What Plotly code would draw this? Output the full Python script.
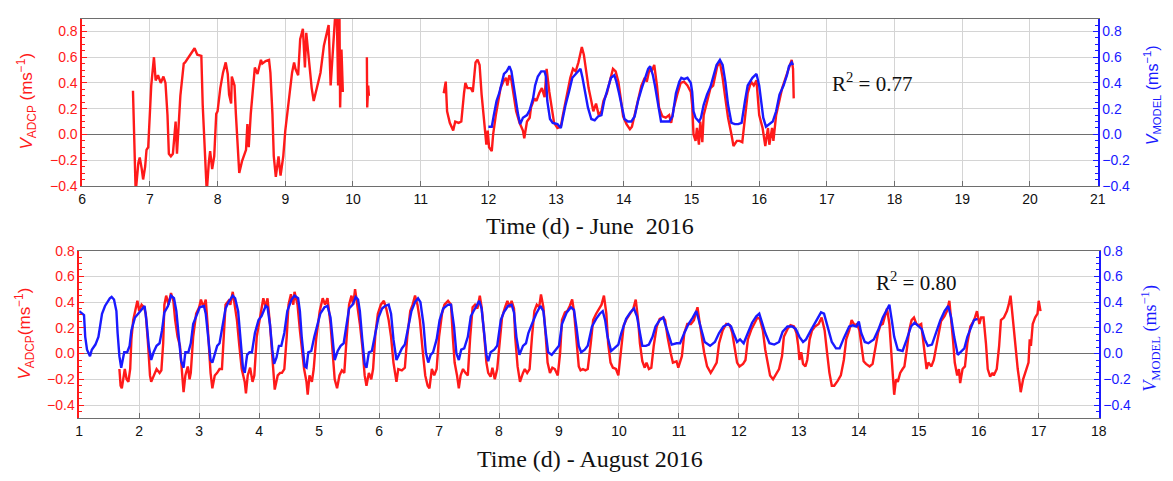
import plotly.graph_objects as go

# ---------------- June 2016 ----------------
june_adcp_t = [
    6.75, 6.79, 6.83, 6.85, 6.88, 6.90, 6.93, 6.95, 6.975, 7.00, 7.02, 7.06, 7.085, 7.12, 7.16, 7.20,
    7.23, 7.26, 7.28, 7.31, 7.34, 7.38, 7.40, 7.45, 7.50, 7.52, 7.57, 7.62, 7.66, 7.70, 7.76, 7.78,
    7.81, 7.84, 7.87, 7.89, 7.92, 7.95, 7.98, 8.00, 8.04, 8.08, 8.12, 8.15, 8.17, 8.20, 8.21, 8.25,
    8.27, 8.30, 8.32, 8.36, 8.39, 8.42, 8.44, 8.46, 8.49, 8.52, 8.55, 8.59, 8.64, 8.66, 8.71, 8.76,
    8.78, 8.81, 8.83, 8.86, 8.90, 8.93, 8.97, 9.00, 9.03, 9.08, 9.10, 9.13, 9.15, 9.19, 9.22, 9.26,
    9.29, 9.31, 9.35, 9.39, 9.42, 9.47, 9.52, 9.57, 9.62, 9.64, 9.67, 9.69, 9.71, 9.74, 9.76, 9.78,
    9.80, 9.81, 9.83, 9.85,
    None,
    10.205, 10.21, 10.225, 10.235,
    None,
    11.34, 11.37, 11.39, 11.43, 11.48, 11.51, 11.56, 11.60, 11.64, 11.66, 11.69, 11.74, 11.77, 11.81,
    11.84, 11.87, 11.90, 11.94, 11.97, 11.99, 12.01, 12.05, 12.07, 12.11, 12.15, 12.18, 12.22, 12.26,
    12.28, 12.31, 12.34, 12.37, 12.41, 12.46, 12.51, 12.53, 12.57, 12.61, 12.63, 12.68, 12.71, 12.75,
    12.79, 12.83, 12.86, 12.90, 12.94, 12.97, 13.02, 13.07, 13.10, 13.14, 13.18, 13.21, 13.25, 13.29,
    13.33, 13.36, 13.38, 13.41, 13.44, 13.48, 13.52, 13.55, 13.59, 13.63, 13.67, 13.70, 13.75, 13.80,
    13.84, 13.88, 13.92, 13.96, 13.99, 14.04, 14.09, 14.12, 14.16, 14.21, 14.26, 14.31, 14.34, 14.38,
    14.41, 14.45, 14.49, 14.52, 14.57, 14.62, 14.67, 14.70, 14.74, 14.79, 14.84, 14.89, 14.94, 14.99,
    15.01, 15.03, 15.06, 15.08, 15.11, 15.13, 15.16, 15.18, 15.23, 15.28, 15.32, 15.35, 15.38, 15.42,
    15.46, 15.50, 15.54, 15.59, 15.62, 15.67, 15.71, 15.75, 15.79, 15.83, 15.88, 15.92, 15.96, 15.98,
    16.00, 16.05, 16.09, 16.13, 16.15, 16.19, 16.21, 16.25, 16.30, 16.34, 16.39, 16.44, 16.48, 16.50,
    16.51,
]
june_adcp_v = [
    0.34, -0.45, -0.22, -0.18, -0.27, -0.35, -0.25, -0.12, -0.10, 0.23, 0.38, 0.60, 0.42, 0.46, 0.40, 0.45,
    0.40, 0.15, -0.15, -0.17, -0.15, 0.10, -0.15, 0.30, 0.55, 0.56, 0.60, 0.64, 0.67, 0.62, 0.61, 0.23,
    -0.22, -0.45, -0.22, -0.13, -0.27, -0.17, 0.16, 0.18, 0.36, 0.48, 0.56, 0.47, 0.31, 0.24, 0.45, 0.38,
    0.16, -0.10, -0.30, -0.21, -0.17, -0.12, 0.08, -0.10, 0.16, 0.38, 0.52, 0.47, 0.58, 0.55, 0.57, 0.58,
    0.48, 0.16, -0.17, -0.33, -0.17, -0.32, -0.17, 0.03, 0.18, 0.43, 0.48, 0.56, 0.51, 0.46, 0.74, 0.82,
    0.52, 0.79, 0.56, 0.36, 0.26, 0.36, 0.48, 0.69, 0.79, 0.85, 0.38, 0.53, 0.74, 0.95, 0.95, 0.38,
    0.95, 0.21, 0.66, 0.33,
    None,
    0.60, 0.21, 0.38, 0.30,
    None,
    0.32, 0.41, 0.18, 0.09, 0.03, 0.10, 0.09, 0.10, 0.32, 0.40, 0.36, 0.36, 0.33, 0.56,
    0.58, 0.54, 0.31, 0.10, -0.08, 0.03, -0.10, -0.13, 0.00, 0.15, 0.28, 0.36, 0.41, 0.44,
    0.38, 0.46, 0.42, 0.31, 0.18, 0.09, 0.03, -0.03, 0.10, 0.13, 0.21, 0.28, 0.26, 0.32,
    0.36, 0.29, 0.51, 0.33, 0.17, 0.09, 0.05, 0.06, 0.15, 0.26, 0.36, 0.44, 0.51, 0.49,
    0.56, 0.64, 0.68, 0.62, 0.49, 0.36, 0.26, 0.18, 0.24, 0.15, 0.18, 0.26, 0.32, 0.44,
    0.51, 0.49, 0.41, 0.26, 0.14, 0.08, 0.04, 0.06, 0.15, 0.26, 0.38, 0.44, 0.41, 0.51,
    0.49, 0.54, 0.38, 0.21, 0.14, 0.13, 0.15, 0.09, 0.21, 0.31, 0.40, 0.41, 0.38, 0.33,
    0.23, 0.00, -0.05, 0.05, -0.08, 0.10, -0.06, 0.15, 0.26, 0.36, 0.38, 0.46, 0.53, 0.56,
    0.44, 0.28, 0.13, 0.00, -0.09, -0.05, -0.05, -0.06, 0.15, 0.32, 0.41, 0.38, 0.42, 0.26,
    0.15, 0.05, -0.09, 0.05, -0.08, 0.05, -0.05, 0.15, 0.28, 0.36, 0.44, 0.51, 0.58, 0.51,
    0.28,
]

june_model_t = [
    12.00, 12.05, 12.08, 12.12, 12.16, 12.19, 12.23, 12.27, 12.31, 12.34, 12.37, 12.41, 12.44, 12.47,
    12.51, 12.57, 12.61, 12.66, 12.69, 12.73, 12.78, 12.83, 12.85, 12.87, 12.91, 12.95, 13.02, 13.07,
    13.10, 13.14, 13.19, 13.24, 13.29, 13.33, 13.36, 13.39, 13.43, 13.47, 13.52, 13.57, 13.62, 13.67,
    13.71, 13.76, 13.81, 13.86, 13.89, 13.93, 13.97, 14.01, 14.06, 14.11, 14.16, 14.21, 14.26, 14.32,
    14.36, 14.39, 14.43, 14.46, 14.50, 14.55, 14.61, 14.67, 14.72, 14.77, 14.82, 14.85, 14.89, 14.94,
    14.99, 15.01, 15.03, 15.06, 15.11, 15.14, 15.18, 15.23, 15.28, 15.33, 15.37, 15.42, 15.46, 15.50,
    15.54, 15.59, 15.64, 15.69, 15.74, 15.79, 15.83, 15.90, 15.96, 16.00, 16.03, 16.06, 16.10, 16.15,
    16.20, 16.25, 16.30, 16.36, 16.41, 16.44, 16.48, 16.50,
]
june_model_v = [
    0.06, 0.06, 0.15, 0.26, 0.32, 0.38, 0.47, 0.49, 0.53, 0.49, 0.38, 0.26, 0.15, 0.08,
    0.13, 0.15, 0.19, 0.28, 0.38, 0.45, 0.49, 0.49, 0.45, 0.26, 0.12, 0.09, 0.08, 0.05,
    0.13, 0.23, 0.33, 0.44, 0.47, 0.49, 0.51, 0.44, 0.31, 0.21, 0.12, 0.11, 0.14, 0.15,
    0.26, 0.36, 0.44, 0.46, 0.41, 0.32, 0.21, 0.12, 0.10, 0.10, 0.14, 0.26, 0.35, 0.44,
    0.51, 0.53, 0.46, 0.38, 0.26, 0.10, 0.10, 0.10, 0.14, 0.32, 0.41, 0.44, 0.43, 0.44,
    0.40, 0.33, 0.18, 0.13, 0.10, 0.13, 0.23, 0.31, 0.37, 0.46, 0.54, 0.58, 0.54, 0.41,
    0.23, 0.09, 0.08, 0.08, 0.09, 0.26, 0.38, 0.44, 0.47, 0.38, 0.26, 0.13, 0.06, 0.08,
    0.10, 0.18, 0.31, 0.38, 0.46, 0.53, 0.56, 0.54,
]

# ---------------- August 2016 ----------------
aug_adcp_t = [
    1.67, 1.69, 1.71, 1.74, 1.76, 1.79, 1.82, 1.85, 1.87, 1.90, 1.93, 1.97, 2.00, 2.04, 2.08, 2.11,
    2.15, 2.18, 2.20, 2.24, 2.29, 2.34, 2.37, 2.40, 2.42, 2.45, 2.49, 2.53, 2.57, 2.60, 2.64, 2.68,
    2.71, 2.74, 2.77, 2.81, 2.84, 2.86, 2.90, 2.95, 3.00, 3.03, 3.07, 3.11, 3.14, 3.16, 3.19, 3.22,
    3.26, 3.30, 3.34, 3.38, 3.41, 3.44, 3.49, 3.52, 3.56, 3.59, 3.63, 3.67, 3.71, 3.76, 3.78, 3.81,
    3.85, 3.89, 3.92, 3.96, 4.02, 4.07, 4.11, 4.14, 4.18, 4.21, 4.24, 4.26, 4.31, 4.35, 4.38, 4.42,
    4.46, 4.49, 4.53, 4.57, 4.59, 4.64, 4.68, 4.71, 4.75, 4.79, 4.81, 4.84, 4.88, 4.91, 4.95, 5.01,
    5.06, 5.10, 5.14, 5.19, 5.23, 5.26, 5.30, 5.34, 5.38, 5.42, 5.46, 5.50, 5.54, 5.57, 5.60, 5.64,
    5.68, 5.72, 5.76, 5.79, 5.83, 5.87, 5.90, 5.94, 5.98, 6.03, 6.08, 6.12, 6.16, 6.20, 6.24, 6.29,
    6.32, 6.38, 6.43, 6.47, 6.52, 6.56, 6.60, 6.64, 6.68, 6.73, 6.77, 6.81, 6.84, 6.88, 6.92, 6.96,
    7.00, 7.05, 7.09, 7.15, 7.20, 7.23, 7.26, 7.30, 7.33, 7.36, 7.40, 7.44, 7.48, 7.52, 7.56, 7.60,
    7.64, 7.68, 7.71, 7.75, 7.79, 7.82, 7.86, 7.89, 7.93, 7.97, 8.01, 8.05, 8.10, 8.14, 8.18, 8.21,
    8.25, 8.27, 8.31, 8.35, 8.40, 8.43, 8.47, 8.51, 8.55, 8.59, 8.63, 8.67, 8.70, 8.74, 8.78, 8.81,
    8.85, 8.89, 8.93, 8.98, 9.02, 9.05, 9.10, 9.14, 9.18, 9.22, 9.25, 9.29, 9.33, 9.36, 9.40, 9.44,
    9.48, 9.53, 9.57, 9.62, 9.68, 9.71, 9.75, 9.79, 9.82, 9.86, 9.90, 9.95, 9.99, 10.03, 10.08, 10.13,
    10.19, 10.24, 10.28, 10.32, 10.35, 10.39, 10.43, 10.46, 10.50, 10.54, 10.58, 10.63, 10.68, 10.74,
    10.77, 10.81, 10.86, 10.90, 10.96, 10.99, 11.05, 11.09, 11.14, 11.20, 11.25, 11.31, 11.34, 11.38,
    11.42, 11.47, 11.53, 11.57, 11.63, 11.67, 11.73, 11.79, 11.85, 11.89, 11.93, 11.97, 12.01, 12.07,
    12.11, 12.15, 12.21, 12.26, 12.31, 12.35, 12.40, 12.44, 12.48, 12.52, 12.57, 12.62, 12.67, 12.72,
    12.75, 12.81, 12.86, 12.92, 12.96, 12.99, 13.01, 13.04, 13.07, 13.11, 13.14, 13.18, 13.22, 13.27,
    13.33, 13.38, 13.43, 13.47, 13.51, 13.55, 13.59, 13.65, 13.70, 13.75, 13.79, 13.84, 13.88, 13.93,
    13.97, 14.01, 14.05, 14.08, 14.12, 14.18, 14.23, 14.27, 14.32, 14.36, 14.40, 14.43, 14.47, 14.51,
    14.54, 14.56, 14.59, 14.62, 14.65, 14.69, 14.73, 14.76, 14.80, 14.84, 14.88, 14.92, 14.96, 15.00,
    15.04, 15.09, 15.13, 15.16, 15.21, 15.25, 15.29, 15.33, 15.37, 15.43, 15.47, 15.51, 15.54, 15.57,
    15.60, 15.64, 15.67, 15.69, 15.73, 15.77, 15.81, 15.86, 15.90, 15.93, 15.97, 16.01, 16.04, 16.08,
    16.12, 16.15, 16.19, 16.23, 16.25, 16.30, 16.34, 16.37, 16.42, 16.47, 16.50, 16.53, 16.55, 16.58,
    16.61, 16.65, 16.68, 16.70, 16.74, 16.77, 16.80, 16.83, 16.85, 16.87, 16.90, 16.94, 16.98, 17.00,
    17.03,
]
aug_adcp_v = [
    -0.12, -0.25, -0.27, -0.17, -0.12, -0.20, -0.22, -0.12, 0.11, 0.26, 0.32, 0.41, 0.33, 0.38, 0.36, 0.31,
    0.06, -0.17, -0.22, -0.17, -0.12, -0.15, -0.13, 0.08, 0.38, 0.45, 0.38, 0.47, 0.41, 0.26, 0.13, 0.06,
    -0.12, -0.30, -0.17, -0.10, -0.20, -0.15, 0.13, 0.31, 0.36, 0.42, 0.36, 0.42, 0.23, 0.06, -0.15, -0.27,
    -0.17, -0.15, -0.12, -0.12, 0.13, 0.38, 0.41, 0.38, 0.48, 0.38, 0.26, 0.06, -0.12, -0.22, -0.31, -0.17,
    -0.11, -0.22, -0.17, 0.13, 0.31, 0.43, 0.36, 0.43, 0.23, 0.01, -0.17, -0.28, -0.17, -0.15, -0.15, -0.12,
    0.13, 0.38, 0.46, 0.38, 0.48, 0.38, 0.18, 0.03, -0.12, -0.22, -0.32, -0.17, -0.22, -0.12, 0.11, 0.33,
    0.43, 0.38, 0.43, 0.23, 0.01, -0.20, -0.27, -0.17, -0.13, -0.15, 0.13, 0.38, 0.45, 0.38, 0.50, 0.38,
    0.23, 0.06, -0.17, -0.25, -0.15, -0.20, -0.12, 0.16, 0.31, 0.38, 0.41, 0.35, 0.26, 0.13, -0.07, -0.22,
    -0.12, -0.13, -0.11, 0.13, 0.33, 0.38, 0.45, 0.38, 0.26, 0.01, -0.17, -0.25, -0.27, -0.12, -0.17, -0.12,
    0.13, 0.31, 0.38, 0.41, 0.38, 0.13, -0.07, -0.17, -0.27, -0.17, -0.12, -0.15, -0.17, 0.13, 0.36, 0.38,
    0.35, 0.45, 0.36, 0.16, -0.07, -0.15, -0.18, -0.11, -0.20, -0.12, 0.06, 0.28, 0.36, 0.41, 0.36, 0.41,
    0.35, 0.13, -0.10, -0.22, -0.15, -0.12, -0.15, -0.12, 0.13, 0.33, 0.38, 0.36, 0.46, 0.36, 0.13, -0.07,
    -0.15, -0.11, -0.12, -0.17, 0.01, 0.26, 0.32, 0.33, 0.37, 0.42, 0.33, 0.11, -0.10, -0.13, -0.12, -0.13,
    -0.12, 0.08, 0.26, 0.31, 0.36, 0.38, 0.45, 0.31, 0.08, -0.07, -0.11, -0.12, -0.17, 0.03, 0.22, 0.27,
    0.32, 0.35, 0.42, 0.26, 0.08, -0.06, -0.11, -0.07, -0.12, -0.11, 0.06, 0.21, 0.27, 0.28,
    0.26, 0.13, 0.01, -0.07, -0.06, -0.11, -0.02, 0.16, 0.23, 0.23, 0.26, 0.36, 0.26, 0.13,
    0.01, -0.10, -0.15, -0.12, -0.07, 0.08, 0.18, 0.23, 0.22, 0.16, 0.03, -0.07, -0.10, -0.08,
    -0.05, 0.11, 0.19, 0.23, 0.28, 0.27, 0.18, 0.03, -0.07, -0.17, -0.20, -0.16, -0.12, -0.02,
    0.13, 0.19, 0.22, 0.21, 0.16, 0.06, -0.05, 0.01, -0.08, -0.10, -0.05, 0.11, 0.18, 0.21,
    0.23, 0.28, 0.18, 0.01, -0.15, -0.25, -0.25, -0.21, -0.17, -0.05, 0.11, 0.18, 0.26, 0.22,
    0.23, 0.18, 0.03, -0.06, -0.08, -0.10, -0.08, 0.03, 0.16, 0.22, 0.23, 0.28, 0.35, 0.23,
    0.06, -0.12, -0.32, -0.20, -0.22, -0.15, -0.12, -0.10, 0.03, 0.18, 0.26, 0.28, 0.23, 0.22,
    0.23, 0.03, -0.12, -0.07, -0.10, -0.05, 0.06, 0.16, 0.25, 0.29, 0.33, 0.41, 0.28, 0.11,
    -0.07, -0.17, -0.12, -0.23, -0.12, -0.10, 0.08, 0.21, 0.24, 0.27, 0.33, 0.23, 0.28, 0.28,
    0.08, -0.12, -0.18, -0.15, -0.17, -0.12, 0.06, 0.26, 0.28, 0.33, 0.38, 0.45, 0.36, 0.21,
    0.03, -0.12, -0.22, -0.30, -0.20, -0.15, -0.12, -0.07, 0.11, 0.06, 0.23, 0.28, 0.31, 0.41,
    0.33,
]

aug_model_t = [
    1.00, 1.08, 1.10, 1.13, 1.18, 1.21, 1.27, 1.32, 1.38, 1.43, 1.51, 1.54, 1.58, 1.62, 1.64, 1.67,
    1.70, 1.73, 1.75, 1.80, 1.84, 1.87, 1.93, 2.00, 2.07, 2.09, 2.12, 2.16, 2.20, 2.24, 2.29, 2.34,
    2.38, 2.42, 2.48, 2.53, 2.58, 2.62, 2.66, 2.70, 2.74, 2.77, 2.82, 2.86, 2.90, 2.96, 3.01, 3.08,
    3.11, 3.15, 3.19, 3.22, 3.26, 3.30, 3.34, 3.38, 3.44, 3.49, 3.56, 3.60, 3.65, 3.69, 3.73, 3.76,
    3.80, 3.84, 3.88, 3.93, 3.99, 4.04, 4.11, 4.14, 4.18, 4.22, 4.25, 4.29, 4.33, 4.37, 4.42, 4.47,
    4.54, 4.59, 4.65, 4.68, 4.71, 4.76, 4.79, 4.82, 4.87, 4.92, 4.97, 5.02, 5.09, 5.14, 5.19, 5.23,
    5.26, 5.31, 5.36, 5.41, 5.45, 5.50, 5.56, 5.61, 5.65, 5.68, 5.72, 5.76, 5.79, 5.83, 5.88, 5.94,
    5.99, 6.05, 6.10, 6.16, 6.20, 6.24, 6.29, 6.32, 6.38, 6.43, 6.49, 6.54, 6.60, 6.65, 6.69, 6.74,
    6.78, 6.82, 6.86, 6.90, 6.96, 7.01, 7.07, 7.15, 7.20, 7.25, 7.29, 7.33, 7.37, 7.42, 7.48, 7.53,
    7.60, 7.67, 7.71, 7.75, 7.79, 7.82, 7.86, 7.92, 7.97, 8.03, 8.08, 8.15, 8.21, 8.25, 8.29, 8.34,
    8.40, 8.45, 8.49, 8.55, 8.62, 8.69, 8.74, 8.78, 8.82, 8.88, 8.93, 9.00, 9.05, 9.13, 9.20, 9.25,
    9.29, 9.33, 9.37, 9.43, 9.48, 9.55, 9.62, 9.68, 9.73, 9.77, 9.81, 9.87, 9.92, 9.99, 10.04, 10.12,
    10.19, 10.25, 10.30, 10.34, 10.39, 10.45, 10.50, 10.56, 10.61, 10.68, 10.74, 10.77, 10.83, 10.88,
    10.96, 11.02, 11.09, 11.16, 11.23, 11.29, 11.32, 11.38, 11.43, 11.52, 11.60, 11.67, 11.74, 11.82,
    11.87, 11.91, 11.97, 12.02, 12.08, 12.15, 12.22, 12.29, 12.34, 12.38, 12.44, 12.51, 12.59, 12.67,
    12.73, 12.81, 12.89, 12.95, 13.01, 13.07, 13.12, 13.20, 13.29, 13.37, 13.42, 13.48, 13.55, 13.62,
    13.68, 13.75, 13.84, 13.90, 13.96, 14.00, 14.04, 14.10, 14.16, 14.25, 14.33, 14.40, 14.47, 14.51,
    14.55, 14.59, 14.65, 14.73, 14.80, 14.87, 14.93, 15.00, 15.05, 15.10, 15.15, 15.22, 15.29, 15.36,
    15.43, 15.49, 15.54, 15.59, 15.65, 15.70, 15.76, 15.81, 15.87, 15.92, 15.98,
]
aug_model_v = [
    0.33, 0.30, 0.13, 0.03, -0.02, 0.03, 0.07, 0.13, 0.31, 0.37, 0.43, 0.44, 0.42, 0.33, 0.16, -0.02,
    -0.11, -0.05, 0.01, 0.01, 0.06, 0.18, 0.28, 0.32, 0.36, 0.37, 0.26, 0.06, -0.05, 0.01, 0.06, 0.08,
    0.18, 0.32, 0.37, 0.45, 0.43, 0.33, 0.13, -0.06, -0.11, 0.01, 0.01, 0.08, 0.23, 0.31, 0.36, 0.37,
    0.31, 0.13, -0.05, -0.07, -0.01, 0.06, 0.08, 0.18, 0.35, 0.40, 0.45, 0.43, 0.33, 0.11, -0.11, -0.15,
    -0.01, 0.01, 0.01, 0.16, 0.26, 0.29, 0.37, 0.36, 0.23, 0.03, -0.08, -0.03, 0.06, 0.06, 0.16, 0.33,
    0.42, 0.45, 0.43, 0.33, 0.13, -0.10, -0.11, 0.01, 0.02, 0.13, 0.23, 0.31, 0.36, 0.37, 0.28, 0.08,
    -0.05, 0.02, 0.06, 0.08, 0.21, 0.35, 0.38, 0.44, 0.42, 0.33, 0.11, -0.08, -0.11, 0.01, 0.02, 0.16,
    0.28, 0.35, 0.37, 0.38, 0.31, 0.11, -0.05, -0.02, 0.04, 0.07, 0.23, 0.33, 0.40, 0.43, 0.40, 0.23,
    0.01, -0.07, -0.01, 0.01, 0.11, 0.26, 0.35, 0.38, 0.38, 0.21, 0.00, -0.05, 0.03, 0.04, 0.13, 0.29,
    0.35, 0.41, 0.35, 0.16, -0.01, -0.06, 0.01, 0.03, 0.06, 0.26, 0.32, 0.37, 0.38, 0.32, 0.13, -0.01,
    0.06, 0.08, 0.16, 0.23, 0.31, 0.37, 0.33, 0.16, 0.01, -0.01, 0.02, 0.06, 0.23, 0.32, 0.36, 0.34,
    0.21, 0.06, 0.01, 0.03, 0.06, 0.21, 0.27, 0.31, 0.33, 0.26, 0.13, 0.02, 0.04, 0.07, 0.16, 0.27,
    0.32, 0.35, 0.29, 0.18, 0.06, 0.06, 0.07, 0.13, 0.21, 0.26, 0.28, 0.23, 0.14, 0.07,
    0.08, 0.08, 0.16, 0.23, 0.28, 0.33, 0.28, 0.18, 0.09, 0.06, 0.09, 0.16, 0.21, 0.23,
    0.21, 0.16, 0.09, 0.11, 0.08, 0.16, 0.24, 0.29, 0.31, 0.25, 0.16, 0.08, 0.07, 0.09,
    0.17, 0.21, 0.21, 0.19, 0.13, 0.09, 0.11, 0.18, 0.26, 0.32, 0.31, 0.21, 0.09, 0.04,
    0.04, 0.12, 0.21, 0.22, 0.21, 0.25, 0.16, 0.09, 0.08, 0.11, 0.19, 0.28, 0.35, 0.38,
    0.26, 0.13, 0.03, 0.02, 0.11, 0.21, 0.24, 0.21, 0.19, 0.11, 0.06, 0.07, 0.16, 0.26,
    0.33, 0.37, 0.28, 0.13, -0.01, 0.01, 0.04, 0.13, 0.21, 0.26, 0.27,
]

# Axis settings and labels
june_x_range = [6, 21]
june_y_range = [-0.4, 0.9]
aug_x_range = [1, 18]
aug_y_range = [-0.5, 0.8]
june_title = "Time (d) - June  2016"
aug_title = "Time (d) - August 2016"
june_r2 = "R<sup>2</sup> = 0.77"
aug_r2 = "R<sup>2</sup> = 0.80"

RED = "#ff1a1a"
BLUE = "#1a1aff"
GRID = "#d4d4d4"
FRAME = "#6e6e6e"
SANS = "Liberation Sans, Arial, sans-serif"
SERIF = "Liberation Serif, Times New Roman, serif"

W, H = 1173, 481


def px_x(p):
    return p / W


def px_y(p):
    return 1 - p / H


top_dom_x = [px_x(79), px_x(1105)]
top_dom_y = [px_y(184), px_y(11)]
bot_dom_x = [px_x(76), px_x(1106)]
bot_dom_y = [px_y(424), px_y(251)]

fig = go.Figure()

line_red = dict(color=RED, width=2.4)
line_blue = dict(color=BLUE, width=2.4)

fig.add_trace(go.Scatter(x=june_adcp_t, y=june_adcp_v, mode="lines", line=line_red,
                         xaxis="x", yaxis="y", showlegend=False, connectgaps=False))
fig.add_trace(go.Scatter(x=june_model_t, y=june_model_v, mode="lines", line=line_blue,
                         xaxis="x", yaxis="y2", showlegend=False))
fig.add_trace(go.Scatter(x=aug_adcp_t, y=aug_adcp_v, mode="lines", line=line_red,
                         xaxis="x2", yaxis="y3", showlegend=False))
fig.add_trace(go.Scatter(x=aug_model_t, y=aug_model_v, mode="lines", line=line_blue,
                         xaxis="x2", yaxis="y4", showlegend=False))


def xaxis(domain, rng, anchor):
    return dict(domain=domain, range=rng, anchor=anchor, dtick=1, tick0=0,
                showgrid=True, gridcolor=GRID, gridwidth=1,
                showline=True, linecolor=FRAME, linewidth=1.2, mirror=True,
                ticks="inside", ticklen=5, tickcolor=FRAME,
                tickfont=dict(family=SANS, size=14, color="#111"),
                zeroline=False, fixedrange=True)


def yaxis_left(domain, rng, anchor):
    return dict(domain=domain, range=rng, anchor=anchor, dtick=0.2, tick0=0,
                tickformat=".1f", showgrid=True, gridcolor=GRID, gridwidth=1,
                zeroline=True, zerolinecolor=FRAME, zerolinewidth=1.2,
                showline=True, linecolor=RED, linewidth=1.5,
                ticks="inside", ticklen=5, tickcolor=RED, tickwidth=1.2,
                minor=dict(dtick=0.05, tick0=0, ticks="inside", ticklen=3,
                           tickcolor=RED, showgrid=False),
                tickfont=dict(family=SANS, size=14, color=RED),
                fixedrange=True)


def yaxis_right(domain, rng, anchor, overlay):
    return dict(domain=domain, range=rng, anchor=anchor, overlaying=overlay, side="right",
                dtick=0.2, tick0=0, tickformat=".1f", showgrid=False, zeroline=False,
                showline=True, linecolor=BLUE, linewidth=1.5,
                ticks="inside", ticklen=5, tickcolor=BLUE, tickwidth=1.2,
                minor=dict(dtick=0.05, tick0=0, ticks="inside", ticklen=3,
                           tickcolor=BLUE, showgrid=False),
                tickfont=dict(family=SANS, size=14, color=BLUE),
                fixedrange=True)


annotations = [
    # x-axis titles
    dict(text=june_title, x=px_x(592), y=px_y(225), xref="paper", yref="paper",
         showarrow=False, font=dict(family=SERIF, size=24, color="#111"),
         xanchor="center", yanchor="middle"),
    dict(text=aug_title, x=px_x(592), y=px_y(467), xref="paper", yref="paper",
         showarrow=False, font=dict(family=SERIF, size=24, color="#111"),
         xanchor="center", yanchor="middle"),
    # y-axis titles
    dict(text="<i>V</i><sub>ADCP</sub> (ms<sup>\u22121</sup>)", x=px_x(23), y=px_y(96),
         xref="paper", yref="paper", showarrow=False, textangle=-90,
         font=dict(family=SANS, size=17, color=RED), xanchor="center", yanchor="middle"),
    dict(text="<i>V</i><sub>MODEL</sub> (ms<sup>\u22121</sup>)", x=px_x(1160), y=px_y(90),
         xref="paper", yref="paper", showarrow=False, textangle=-90,
         font=dict(family=SANS, size=16, color=BLUE), xanchor="center", yanchor="middle"),
    dict(text="<i>V</i><sub>ADCP</sub>(ms<sup>\u22121</sup>)", x=px_x(21), y=px_y(337),
         xref="paper", yref="paper", showarrow=False, textangle=-90,
         font=dict(family=SANS, size=17, color=RED), xanchor="center", yanchor="middle"),
    dict(text="<i>V</i><sub>MODEL</sub> (ms<sup>\u22121</sup>)", x=px_x(1158), y=px_y(342),
         xref="paper", yref="paper", showarrow=False, textangle=-90,
         font=dict(family=SERIF, size=18, color=BLUE), xanchor="center", yanchor="middle"),
    # goodness-of-fit labels
    dict(text=june_r2, x=17.66, y=0.40, xref="x", yref="y", showarrow=False,
         font=dict(family=SERIF, size=21, color="#111"), xanchor="center", yanchor="middle"),
    dict(text=aug_r2, x=14.95, y=0.56, xref="x2", yref="y3", showarrow=False,
         font=dict(family=SERIF, size=21, color="#111"), xanchor="center", yanchor="middle"),
]

fig.update_layout(
    width=W, height=H,
    margin=dict(l=0, r=0, t=0, b=0),
    paper_bgcolor="white", plot_bgcolor="white",
    xaxis=xaxis(top_dom_x, june_x_range, "y"),
    yaxis=yaxis_left(top_dom_y, june_y_range, "x"),
    yaxis2=yaxis_right(top_dom_y, june_y_range, "x", "y"),
    xaxis2=xaxis(bot_dom_x, aug_x_range, "y3"),
    yaxis3=yaxis_left(bot_dom_y, aug_y_range, "x2"),
    yaxis4=yaxis_right(bot_dom_y, aug_y_range, "x2", "y3"),
    annotations=annotations,
    showlegend=False,
)

fig.write_html("out.html")
